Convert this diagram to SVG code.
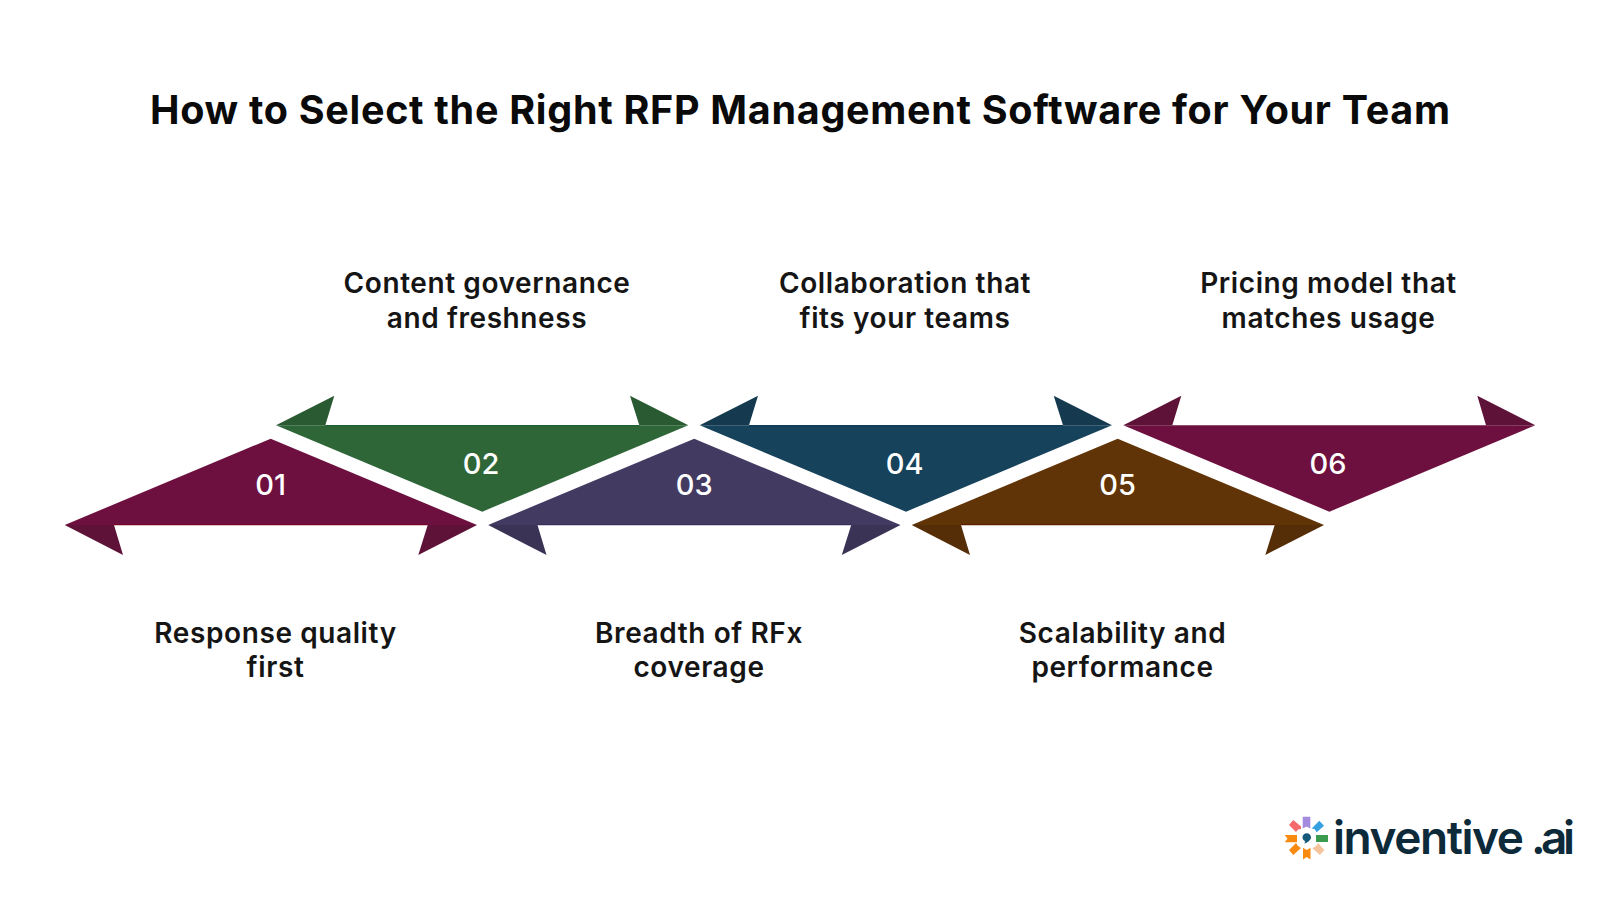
<svg xmlns="http://www.w3.org/2000/svg" width="1600" height="900" viewBox="0 0 1600 900">
<style>
text{font-family:"Inter","Liberation Sans",sans-serif}
.title{font-size:39.500px;font-weight:700;fill:#0a0a0a;text-anchor:middle}
.label{font-size:28px;font-weight:600;letter-spacing:.6px;fill:#151515;text-anchor:middle}
.num{font-size:29px;font-weight:500;fill:#fff;text-anchor:middle}
.logo{font-size:46px;font-weight:600;fill:#0d2a3a}
.edge{stroke-width:1.200;fill:none}
</style>
<rect width="1600" height="900" fill="#fff"/>
<text class="title" x="800" y="123.500" textLength="1300">How to Select the Right RFP Management Software for Your Team</text>
<g id="node-01">
<path d="M270.700 438.700L477 525H64.700Z" fill="#6e103f"/>
<path d="M64.700 525L123 555L114 525ZM477 525L418.300 555L427.700 525Z" fill="#5e1238"/>
<path class="edge" d="M114 524.700H427.700" stroke="#7a0226"/>
<text class="num" x="270.700" y="495">01</text>
<text class="label" x="275.500" y="642.500">Response quality</text>
<text class="label" x="275.500" y="677">first</text>
</g>
<g id="node-02">
<path d="M276 425.300H688.300L482.300 511.700Z" fill="#2e6638"/>
<path d="M276 425.300L334.300 395.700L325.300 425.300ZM688.300 425.300L630 395.700L639.300 425.300Z" fill="#2a5a32"/>
<path class="edge" d="M325.300 425.700H639.300" stroke="#1f6030"/>
<text class="num" x="481" y="474">02</text>
<text class="label" x="487" y="292.500">Content governance</text>
<text class="label" x="487" y="327.500">and freshness</text>
</g>
<g id="node-03">
<path d="M694.200 438.700L900.500 525H488.200Z" fill="#433a62"/>
<path d="M488.200 525L546.500 555L537.500 525ZM900.500 525L841.800 555L851.200 525Z" fill="#3a3355"/>
<path class="edge" d="M537.500 524.700H851.200" stroke="#38305c"/>
<text class="num" x="694.200" y="495">03</text>
<text class="label" x="699" y="642.500">Breadth of RFx</text>
<text class="label" x="699" y="677">coverage</text>
</g>
<g id="node-04">
<path d="M699.700 425.300H1112L906 511.700Z" fill="#16425b"/>
<path d="M699.700 425.300L758 395.700L749 425.300ZM1112 425.300L1053.700 395.700L1063 425.300Z" fill="#153a50"/>
<path class="edge" d="M749 425.700H1063" stroke="#0f3c58"/>
<text class="num" x="904.700" y="474">04</text>
<text class="label" x="905" y="292.500">Collaboration that</text>
<text class="label" x="905" y="327.500">fits your teams</text>
</g>
<g id="node-05">
<path d="M1117.700 438.700L1324 525H911.700Z" fill="#603407"/>
<path d="M911.700 525L970 555L961 525ZM1324 525L1265.300 555L1274.700 525Z" fill="#552e08"/>
<path class="edge" d="M961 524.700H1274.700" stroke="#601e00"/>
<text class="num" x="1117.700" y="495">05</text>
<text class="label" x="1122.500" y="642.500">Scalability and</text>
<text class="label" x="1122.500" y="677">performance</text>
</g>
<g id="node-06">
<path d="M1123.300 425.300H1535.300L1329.400 511.700Z" fill="#6e103f"/>
<path d="M1123.300 425.300L1181.300 395.700L1172.300 425.300ZM1535.300 425.300L1477.300 395.700L1486 425.300Z" fill="#5e1238"/>
<text class="num" x="1328" y="474">06</text>
<text class="label" x="1328.500" y="292.500">Pricing model that</text>
<text class="label" x="1328.500" y="327.500">matches usage</text>
</g>
<g id="connectors"/>
<g id="logo">
<path d="M1302.700 816.700H1310.300V828.500L1306.500 826.500L1302.700 828.500Z" fill="#a58be0"/>
<path d="M1316 835H1328V842H1316Z" fill="#3a9a4e"/>
<path d="M1284.700 835H1297V842.300H1284.700L1287.500 838.700Z" fill="#f98a10"/>
<path d="M1303 847.700L1306.700 850L1310.500 847.700V859.500L1306.700 857L1303 859.500Z" fill="#f98a10"/>
<path d="M1293.300 820L1289 825L1296 832L1298 829.500L1301 829L1301 826.500Z" fill="#f56a6a"/>
<path d="M1319.300 820.700L1324 825.700L1316.700 832.300L1314.500 829L1311.700 828.500Z" fill="#36a0e0"/>
<path d="M1296 843L1298 846L1301 848L1293.300 855L1289 850Z" fill="#f98a10"/>
<path d="M1318.300 843.300L1324.300 850L1320 855L1312.300 848.300L1315.500 846.500Z" fill="#f5c49c"/>
<path d="M1306.700 833.300C1309.200 833.300 1311 835.200 1311 837.500C1311 840 1308 842 1304.500 843.800C1305 842 1305 841.300 1304.800 841C1303.400 840.200 1302.500 839 1302.500 837.500C1302.500 835.200 1304.300 833.300 1306.700 833.300Z" fill="#145a78"/>
<text class="logo" x="1333" y="853.500" textLength="191">inventive</text>
<text class="logo" x="1531" y="853.500" textLength="44">.ai</text>
</g>
</svg>
